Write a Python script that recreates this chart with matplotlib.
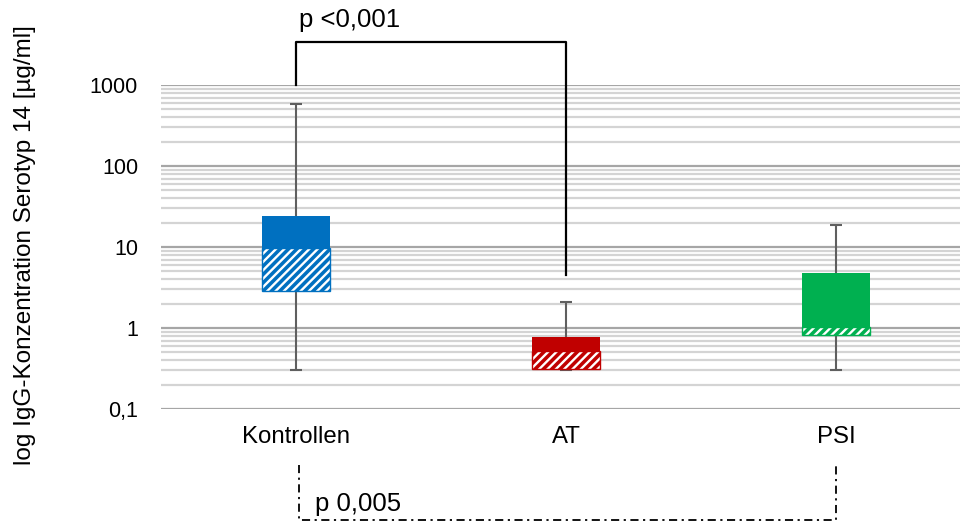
import matplotlib
matplotlib.use('Agg')
import matplotlib.pyplot as plt
import matplotlib.transforms as mtransforms
from matplotlib.ticker import FixedLocator, LogLocator, NullFormatter
import numpy as np

plt.rcParams['font.family'] = ['Liberation Sans', 'DejaVu Sans']
plt.rcParams['hatch.linewidth'] = 1.7
plt.rcParams['hatch.color'] = 'white'

# Daten
groups = ['Kontrollen', 'AT', 'PSI']
mins = [0.30, 0.30, 0.30]
q1 = [2.9, 0.31, 0.81]
medians = [9.8, 0.52, 1.04]
q3 = [24.3, 0.78, 4.8]
maxs = [590, 2.08, 18.7]
colors = ['#0070C0', '#C00000', '#00B050']

ytick_vals = [0.1, 1, 10, 100, 1000]
ytick_labels = ['0,1', '1', '10', '100', '1000']

fig = plt.figure(figsize=(9.6, 5.28), dpi=100)
ax = fig.add_axes([161 / 960, 1 - 409 / 528, 810 / 960, 324 / 528])

x = np.arange(len(groups))
box_w = 0.255
whisker_col = '#5F5F5F'

# Whisker
ax.vlines(x, mins, q1, color=whisker_col, lw=1.5, zorder=2)
ax.vlines(x, q3, maxs, color=whisker_col, lw=1.5, zorder=2)
ax.hlines(mins, x - 0.022, x + 0.022, color=whisker_col, lw=1.5, zorder=2)
ax.hlines(maxs, x - 0.022, x + 0.022, color=whisker_col, lw=1.5, zorder=2)

# Boxen: oberer Teil (Median bis Q3) gefüllt, unterer Teil schraffiert
upper = np.array(q3) - np.array(medians)
lower = np.array(medians) - np.array(q1)
ax.bar(x, upper, bottom=medians, width=box_w, color=colors, linewidth=0, zorder=3)
for xi, lo, b, c in zip(x, lower, q1, colors):
    ax.bar(xi, lo, bottom=b, width=box_w, facecolor=c, edgecolor='white',
           hatch='////', linewidth=0, zorder=3)
    ax.bar(xi, lo, bottom=b, width=box_w, facecolor='none', edgecolor=c,
           linewidth=1.0, zorder=4)

ax.set_yscale('log')
ax.set_ylim(0.1, 1000)
ax.set_xlim(-0.5, 2.5)
ax.yaxis.set_major_locator(FixedLocator(ytick_vals))
ax.set_yticklabels(ytick_labels)
ax.yaxis.set_minor_locator(LogLocator(base=10, subs=np.arange(2, 10)))
ax.yaxis.set_minor_formatter(NullFormatter())
ax.set_xticks(x)
ax.set_xticklabels(groups)
ax.tick_params(axis='both', which='both', length=0, colors='black')
ax.tick_params(axis='y', pad=16.5, labelsize=15.5)
ax.tick_params(axis='x', pad=12, labelsize=17.3)

ax.grid(which='major', axis='y', color='#A6A6A6', lw=1.6, zorder=0)
ax.grid(which='minor', axis='y', color='#D4D4D4', lw=1.6, zorder=0)
ax.set_axisbelow(True)
for s in ax.spines.values():
    s.set_visible(False)

# Signifikanz oben: Kontrollen vs AT
bracket_top = 10 ** 3.535
ax.plot([0, 0, 1, 1], [1000, bracket_top, bracket_top, 4.5], color='black', lw=1.6,
        clip_on=False, zorder=5)
ax.text(0.012, 10 ** 3.8, 'p <0,001', fontsize=18.5, ha='left', va='center',
        clip_on=False)

# Signifikanz unten: Kontrollen vs PSI
trans = mtransforms.blended_transform_factory(ax.transData, ax.transAxes)
ax.plot([0.01, 0.01, 2, 2], [-0.173, -0.343, -0.343, -0.173], color='black', lw=1.3,
        ls=(0, (4.5, 2.5, 1.2, 2.5)), transform=trans, clip_on=False)
ax.text(0.072, -0.292, 'p 0,005', fontsize=18.5, ha='left', va='center',
        transform=trans)

fig.text(25 / 960, 1 - 245 / 528, 'log IgG-Konzentration Serotyp 14 [µg/ml]',
         rotation=90, ha='center', va='center', fontsize=17.5)

fig.savefig('out.png', dpi=100)
